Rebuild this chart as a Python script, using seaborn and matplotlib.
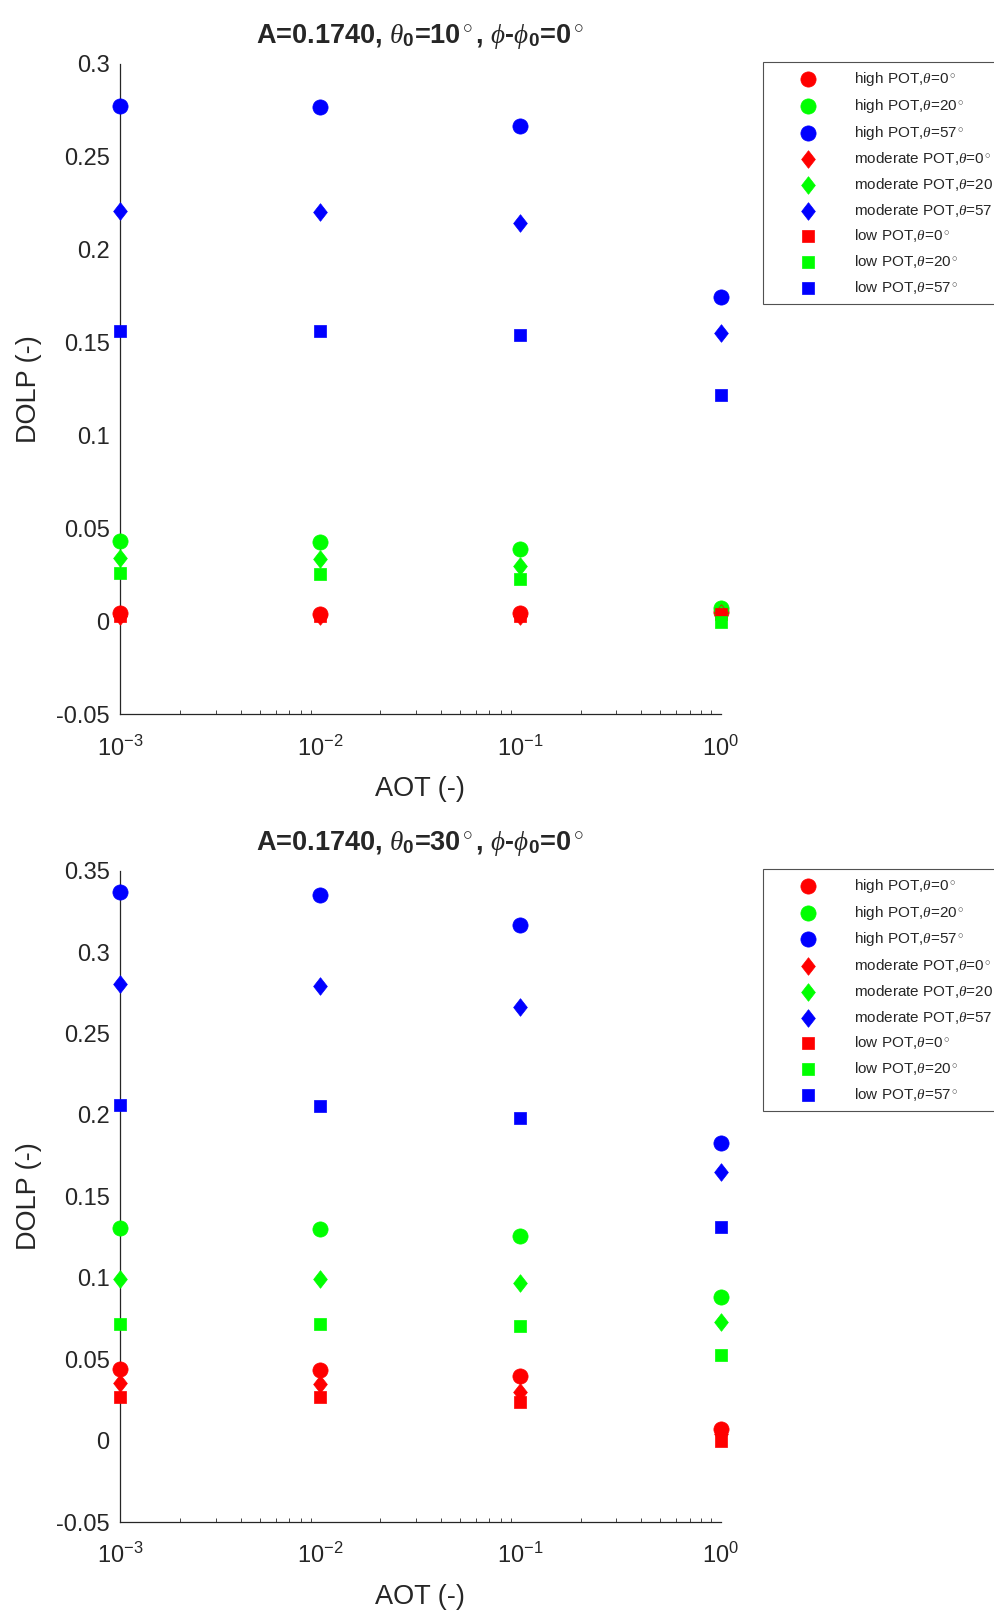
import numpy as np
import pandas as pd
import matplotlib
matplotlib.use("Agg")
import matplotlib.pyplot as plt
from matplotlib.path import Path
import seaborn as sns

# AOT values (x axis, log scale)
aot = [1e-3, 1e-2, 1e-1, 1e0]
thetas = [0, 20, 57]
pots = ["high", "moderate", "low"]

# DOLP values, solar zenith 10 deg; one list per viewing angle (0, 20, 57)
top_high = [[0.0048, 0.0042, 0.0048, 0.0050],
            [0.0435, 0.0430, 0.0390, 0.0075],
            [0.2773, 0.2765, 0.2663, 0.1745]]
top_moderate = [[0.0032, 0.0030, 0.0032, 0.0045],
                [0.0340, 0.0335, 0.0300, 0.0040],
                [0.2210, 0.2204, 0.2143, 0.1551]]
top_low = [[0.0030, 0.0030, 0.0030, 0.0040],
           [0.0260, 0.0258, 0.0230, 0.0000],
           [0.1562, 0.1562, 0.1540, 0.1220]]

# DOLP values, solar zenith 30 deg
bot_high = [[0.0440, 0.0434, 0.0396, 0.0074],
            [0.1304, 0.1298, 0.1260, 0.0880],
            [0.3370, 0.3350, 0.3166, 0.1828]]
bot_moderate = [[0.0352, 0.0350, 0.0300, 0.0040],
                [0.0995, 0.0995, 0.0970, 0.0730],
                [0.2806, 0.2793, 0.2660, 0.1650]]
bot_low = [[0.0270, 0.0270, 0.0238, 0.0000],
           [0.0718, 0.0718, 0.0705, 0.0528],
           [0.2060, 0.2055, 0.1980, 0.1310]]

panels = [
    {"sza": 10, "data": [top_high, top_moderate, top_low], "yticks": np.arange(-0.05, 0.301, 0.05)},
    {"sza": 30, "data": [bot_high, bot_moderate, bot_low], "yticks": np.arange(-0.05, 0.351, 0.05)},
]

# MATLAB-like diamond (a bit taller than wide)
diamond = Path([(0, 1), (0.78, 0), (0, -1), (-0.78, 0), (0, 1)],
               [Path.MOVETO, Path.LINETO, Path.LINETO, Path.LINETO, Path.CLOSEPOLY])

colors = {0: "#ff0000", 20: "#00ff00", 57: "#0000ff"}
markers = {"high": "o", "moderate": diamond, "low": "s"}
sizes = {"high": 120, "moderate": 160, "low": 72}

sns.set_style("white")
plt.rcParams["font.family"] = ["Liberation Sans", "DejaVu Sans"]
plt.rcParams["mathtext.fontset"] = "custom"
plt.rcParams["mathtext.rm"] = "Liberation Sans"
plt.rcParams["mathtext.it"] = "Liberation Serif:italic"
plt.rcParams["mathtext.bf"] = "Liberation Sans:bold"
plt.rcParams["axes.unicode_minus"] = False

fig = plt.figure(figsize=(9.95, 16.11), dpi=100)
axes_pos = [[0.1206, 0.5565, 0.6036, 0.404],
            [0.1206, 0.0551, 0.6036, 0.4045]]
legend_top = [0.9617, 0.4608]

axis_col = "#262626"

for p, pos, ltop in zip(panels, axes_pos, legend_top):
    ax = fig.add_axes(pos)

    for pot, series in zip(pots, p["data"]):
        for th, vals in zip(thetas, series):
            df = pd.DataFrame({"aot": aot, "dolp": vals})
            sns.scatterplot(data=df, x="aot", y="dolp", ax=ax,
                            color=colors[th], marker=markers[pot], s=sizes[pot],
                            edgecolor=colors[th], linewidth=0.5, clip_on=False,
                            zorder=3,
                            label=f"{pot} POT,$\\theta$={th}$^\\circ$")

    ax.set_xscale("log")
    ax.set_xlim(1e-3, 1e0)
    yt = p["yticks"]
    ax.set_ylim(yt[0], yt[-1])
    ax.set_yticks(yt)
    ax.set_yticklabels([f"{v:g}" if abs(v) > 1e-9 else "0" for v in yt])
    ax.set_xticks(aot)
    ax.set_xticklabels(["$\\mathregular{10^{-3}}$", "$\\mathregular{10^{-2}}$",
                        "$\\mathregular{10^{-1}}$", "$\\mathregular{10^{0}}$"])

    for s in ["top", "right"]:
        ax.spines[s].set_visible(False)
    for s in ["left", "bottom"]:
        ax.spines[s].set_color(axis_col)
        ax.spines[s].set_linewidth(0.9)
    ax.tick_params(axis="both", which="major", direction="in", length=6,
                   width=0.8, color=axis_col, labelcolor=axis_col, labelsize=17, pad=7.5)
    ax.tick_params(axis="x", which="minor", direction="in", length=3,
                   width=0.6, color=axis_col, bottom=True)
    ax.tick_params(axis="x", which="major", pad=15)

    ax.set_xlabel("AOT (-)", fontsize=19.5, color=axis_col, labelpad=11)
    ax.set_ylabel("DOLP (-)", fontsize=19.5, color=axis_col, labelpad=10)
    ax.set_title(f"A=0.1740, $\\theta_\\mathbf{{0}}$=$\\mathbf{{{p['sza']}}}^\\circ$, "
                 f"$\\phi$-$\\phi_\\mathbf{{0}}$=$\\mathbf{{0}}^\\circ$",
                 fontsize=19.5, fontweight="bold", pad=15)

    leg = ax.legend(loc="upper left", bbox_to_anchor=(0.7668, ltop),
                    bbox_transform=fig.transFigure, fontsize=11,
                    frameon=True, fancybox=False, borderpad=0.55,
                    labelspacing=0.57, handlelength=4.8, handletextpad=0.58,
                    markerscale=1.0, borderaxespad=0)
    leg.get_frame().set_edgecolor(axis_col)
    leg.get_frame().set_linewidth(0.8)

fig.savefig("out.png", dpi=100)
